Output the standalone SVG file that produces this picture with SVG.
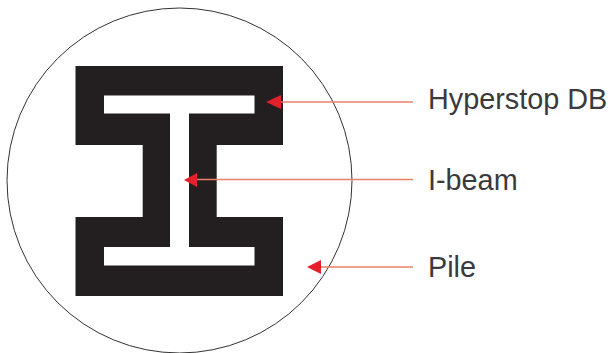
<svg xmlns="http://www.w3.org/2000/svg" width="612" height="353" viewBox="0 0 612 353">
<style>
.l{font-family:"Liberation Sans",Arial,sans-serif;font-size:28.8px;fill:#3a3a3c}
.c{fill:none;stroke:#e8806a;stroke-width:1.6}
.h{fill:#e3202c}
</style>
<rect width="612" height="353" fill="#fff"/>
<g id="pile"><circle cx="179.5" cy="180.5" r="172.5" fill="#fff" stroke="#333" stroke-width="1"/></g>
<g id="hyperstop"><path d="M75.5 66H283V145H216.7V217H283V296H75.5V217H142.7V145H75.5Z" fill="#231f20"/></g>
<g id="ibeam"><path d="M104 95.5H254.5V113.5H189V247H254.5V265.5H104V247H170V113.5H104Z" fill="#fff"/></g>
<g id="connectors">
<path class="c" d="M413 102H278"/><path class="h" d="M266 102L281 95V109Z"/>
<path class="c" d="M413 179.5H197"/><path class="h" d="M184 180L197 173V187Z"/>
<path class="c" d="M413 267H320"/><path class="h" d="M307 267L321 260V274Z"/>
</g>
<g id="label-hyperstop"><text class="l" x="428" y="109">Hyperstop DB</text></g>
<g id="label-ibeam"><text class="l" x="428" y="190">I-beam</text></g>
<g id="label-pile"><text class="l" x="428" y="277">Pile</text></g>
</svg>
